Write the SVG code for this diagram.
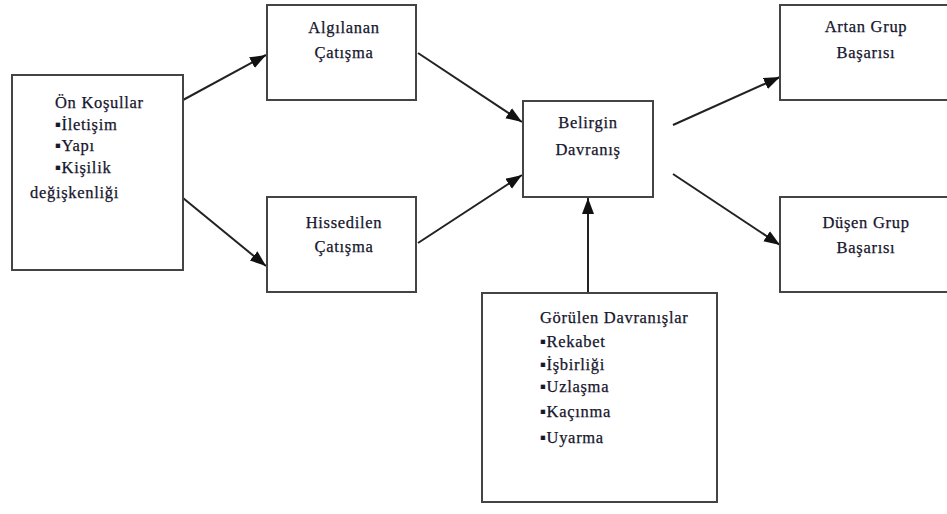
<svg xmlns="http://www.w3.org/2000/svg" width="947" height="514" viewBox="0 0 947 514">
<defs>
<marker id="ah" markerUnits="userSpaceOnUse" markerWidth="18" markerHeight="14" refX="16" refY="6" orient="auto">
<path d="M0,0 L16,6 L0,12 Z" fill="#111"/>
</marker>
<style>
.box{fill:#fff;stroke:#444;stroke-width:2}
.c{text-anchor:middle}
.ln{stroke:#222;stroke-width:2;fill:none;marker-end:url(#ah)}
</style>
</defs>
<rect width="947" height="514" fill="#fff"/>
<g id="connectors">
<line class="ln" x1="183" y1="100" x2="266" y2="55"/>
<line class="ln" x1="183" y1="198" x2="266" y2="266"/>
<line class="ln" x1="418" y1="53" x2="522" y2="122"/>
<line class="ln" x1="418" y1="243" x2="522" y2="175"/>
<line class="ln" x1="588" y1="293" x2="588" y2="198"/>
<line class="ln" x1="673" y1="125" x2="780" y2="77"/>
<line class="ln" x1="673" y1="174" x2="780" y2="245"/>
</g>
<g font-size="16.5" letter-spacing="0.7" fill="#16162c" stroke="#16162c" stroke-width="0.25">
<g id="onkosullar">
<rect class="box" x="12" y="75" width="171" height="195"/>
<text font-family="Liberation Serif" x="55" y="108">Ön Koşullar</text>
<text font-family="Liberation Serif" x="55" y="130">▪İletişim</text>
<text font-family="Liberation Serif" x="55" y="151">▪Yapı</text>
<text font-family="Liberation Serif" x="55" y="173">▪Kişilik</text>
<text font-family="Liberation Serif" x="30" y="198">değişkenliği</text>
</g>
<g id="algilanan">
<rect class="box" x="267" y="5" width="149" height="95"/>
<text font-family="Liberation Serif" class="c" x="344" y="33">Algılanan</text>
<text font-family="Liberation Serif" class="c" x="344" y="58">Çatışma</text>
</g>
<g id="hissedilen">
<rect class="box" x="267" y="197" width="149" height="95"/>
<text font-family="Liberation Serif" class="c" x="344" y="228">Hissedilen</text>
<text font-family="Liberation Serif" class="c" x="344" y="252">Çatışma</text>
</g>
<g id="belirgin">
<rect class="box" x="523" y="101" width="130" height="96"/>
<text font-family="Liberation Serif" class="c" x="588" y="128">Belirgin</text>
<text font-family="Liberation Serif" class="c" x="588" y="155">Davranış</text>
</g>
<g id="artan">
<rect class="box" x="780" y="5" width="170" height="95"/>
<text font-family="Liberation Serif" class="c" x="866" y="32">Artan Grup</text>
<text font-family="Liberation Serif" class="c" x="866" y="58">Başarısı</text>
</g>
<g id="dusen">
<rect class="box" x="780" y="197" width="170" height="95"/>
<text font-family="Liberation Serif" class="c" x="866" y="228">Düşen Grup</text>
<text font-family="Liberation Serif" class="c" x="866" y="253">Başarısı</text>
</g>
<g id="gorulen">
<rect class="box" x="482" y="293" width="235" height="209"/>
<text font-family="Liberation Serif" x="540" y="323">Görülen Davranışlar</text>
<text font-family="Liberation Serif" x="540" y="347">▪Rekabet</text>
<text font-family="Liberation Serif" x="540" y="370">▪İşbirliği</text>
<text font-family="Liberation Serif" x="540" y="392">▪Uzlaşma</text>
<text font-family="Liberation Serif" x="540" y="417">▪Kaçınma</text>
<text font-family="Liberation Serif" x="540" y="443">▪Uyarma</text>
</g>
</g>
</svg>
